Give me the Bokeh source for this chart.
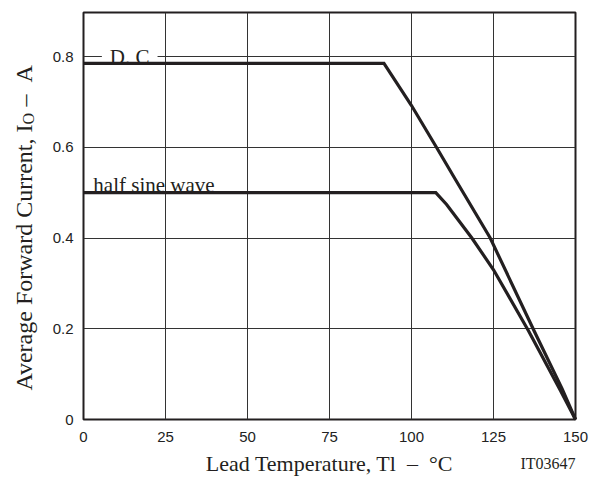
import math
from bokeh.plotting import figure
from bokeh.models import Label, FixedTicker, Range1d
from bokeh.layouts import row, column
from bokeh.core.properties import value
from bokeh.embed import file_html
from bokeh.resources import INLINE

# Data
dc_temp = [0, 91.6, 100, 107.6, 113.3, 124.0, 137.4, 145.9, 150]
dc_current = [0.785, 0.785, 0.692, 0.600, 0.530, 0.400, 0.195, 0.068, 0.0]
hs_temp = [0, 107.4, 110.7, 118.4, 125.0, 135.7, 145.4, 150]
hs_current = [0.500, 0.500, 0.474, 0.400, 0.330, 0.195, 0.064, 0.0]
x_ticks = [0, 25, 50, 75, 100, 125, 150]
y_ticks = [0, 0.2, 0.4, 0.6, 0.8]
y_tick_labels = {0: "0", 0.2: "0.2", 0.4: "0.4", 0.6: "0.6", 0.8: "0.8"}

SERIF = "Liberation Serif"
SANS = "Liberation Sans"
INK = "#231f20"

TOP, BOTTOM = 12, 25
FRAME_H = 407
H = TOP + FRAME_H + BOTTOM  # 444
LEFT_W = 43
MAIN_W = 557
BOT_H = 33

y_range = Range1d(0, 0.897)

# ---- main plot ----
p = figure(width=MAIN_W, height=H, output_backend="svg", toolbar_location=None,
           x_range=Range1d(0, 150), y_range=y_range,
           min_border_left=40, min_border_right=25, min_border_top=TOP, min_border_bottom=BOTTOM)
p.title.visible = False
p.outline_line_color = INK
p.outline_line_width = 2
p.background_fill_color = "white"
p.border_fill_color = "white"

for ax in (p.xaxis[0], p.yaxis[0]):
    ax.axis_line_color = None
    ax.major_tick_line_color = None
    ax.minor_tick_line_color = None
    ax.major_label_text_font = SANS
    ax.major_label_text_font_size = "15px"
    ax.major_label_text_color = "#222222"

p.xaxis[0].ticker = FixedTicker(ticks=x_ticks)
p.yaxis[0].ticker = FixedTicker(ticks=y_ticks)
p.yaxis[0].major_label_overrides = y_tick_labels
p.xaxis[0].major_label_standoff = 6
p.yaxis[0].major_label_standoff = 4

p.xgrid[0].ticker = FixedTicker(ticks=x_ticks)
p.ygrid[0].ticker = FixedTicker(ticks=y_ticks)
for g in (p.xgrid[0], p.ygrid[0]):
    g.grid_line_color = "#333333"
    g.grid_line_width = 1
    g.grid_line_alpha = 1

# curves drawn above the labels so the label background only hides the grid line
p.line(dc_temp, dc_current, line_color=INK, line_width=3.2, line_join="miter", level="overlay")
p.line(hs_temp, hs_current, line_color=INK, line_width=3.2, line_join="miter", level="overlay")

p.add_layout(Label(x=5.6, y=0.8, text="D. C", text_font=SERIF, text_font_size="21px",
                   text_color=INK, text_baseline="alphabetic",
                   background_fill_color="white", padding=(8, 0)))
p.add_layout(Label(x=3.0, y=0.517, text="half sine wave", text_font=SERIF,
                   text_font_size="21px", text_color=INK, text_baseline="alphabetic"))

# ---- left strip: rotated y title with subscript ----
pl = figure(width=LEFT_W, height=H, output_backend="svg", toolbar_location=None,
            x_range=Range1d(0, LEFT_W), y_range=y_range,
            x_axis_location=None, y_axis_location=None,
            min_border_left=0, min_border_right=0, min_border_top=TOP, min_border_bottom=BOTTOM)
pl.title.visible = False
pl.outline_line_color = None
pl.grid.grid_line_color = None
pl.background_fill_color = "white"
pl.border_fill_color = "white"

px_per_unit = FRAME_H / 0.897
y_join = (419 - 124) / px_per_unit
base_x = 23
pl.text(x=[base_x], y=[y_join], text=["Average Forward Current, I"], angle=math.pi / 2,
        text_font=value(SERIF), text_font_size="24px", text_color=INK,
        text_align="right", text_baseline="alphabetic")
pl.text(x=[base_x + 5], y=[y_join], text=["O"], angle=math.pi / 2,
        text_font=value(SERIF), text_font_size="16px", text_color=INK,
        text_align="left", text_baseline="alphabetic")
pl.text(x=[base_x], y=[y_join + 12 / px_per_unit], text=["\u00a0\u2013\u00a0\u00a0A"], angle=math.pi / 2,
        text_font=value(SERIF), text_font_size="24px", text_color=INK,
        text_align="left", text_baseline="alphabetic")

# ---- bottom strip: x title and figure code ----
pb = figure(width=LEFT_W + MAIN_W, height=BOT_H, output_backend="svg", toolbar_location=None,
            x_range=Range1d(0, LEFT_W + MAIN_W), y_range=Range1d(0, BOT_H),
            x_axis_location=None, y_axis_location=None,
            min_border_left=0, min_border_right=0, min_border_top=0, min_border_bottom=0)
pb.title.visible = False
pb.outline_line_color = None
pb.grid.grid_line_color = None
pb.background_fill_color = "white"
pb.border_fill_color = "white"
pb.text(x=[329], y=[14], text=["Lead Temperature, Tl\u00a0\u00a0\u2013\u00a0\u00a0\u00b0C"],
        text_font=value(SERIF), text_font_size="22px", text_color=INK,
        text_align="center", text_baseline="middle")
pb.text(x=[575], y=[14], text=["IT03647"],
        text_font=value(SERIF), text_font_size="16px", text_color=INK,
        text_align="right", text_baseline="middle")

layout = column(row(pl, p), pb)
open("out.html", "w").write(file_html(layout, INLINE))
